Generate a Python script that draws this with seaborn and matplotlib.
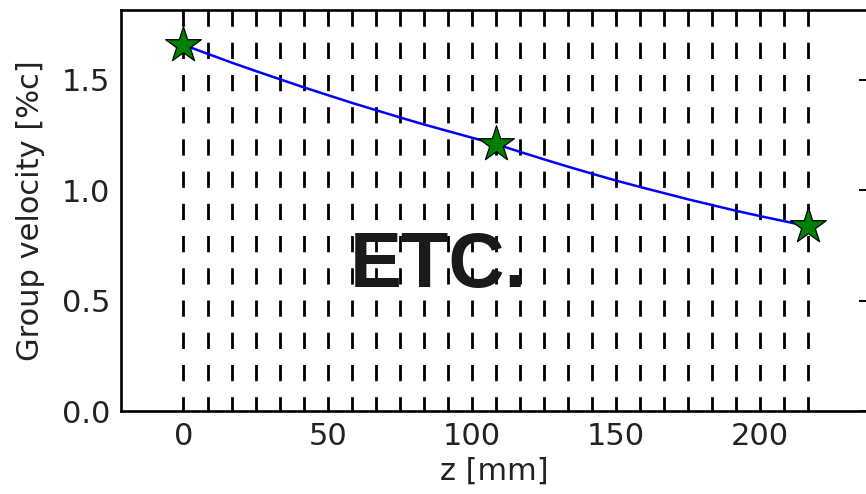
import numpy as np
import matplotlib
matplotlib.use("Agg")
import matplotlib.pyplot as plt
import seaborn as sns

# Cell boundary positions along the structure [mm]
cell_z = [0.0, 8.33, 16.67, 25.0, 33.33, 41.67, 50.0, 58.33, 66.67, 75.0,
          83.33, 91.67, 100.0, 108.33, 116.67, 125.0, 133.33, 141.67, 150.0,
          158.33, 166.67, 175.0, 183.33, 191.67, 200.0, 208.33, 216.67]

# Group velocity at each cell [%c]
group_velocity = [1.657, 1.617, 1.577, 1.539, 1.502, 1.465, 1.430, 1.395,
                  1.362, 1.329, 1.297, 1.267, 1.237, 1.208, 1.173, 1.139,
                  1.106, 1.074, 1.043, 1.014, 0.986, 0.958, 0.932, 0.906,
                  0.882, 0.859, 0.836]

# Design points (first, middle and last cell)
design_z = [0.0, 108.33, 216.67]
design_vg = [1.657, 1.208, 0.836]

x_ticks = [0, 50, 100, 150, 200]
y_ticks = [0.0, 0.5, 1.0, 1.5]

sns.set_style("white")
plt.rcParams["font.family"] = ["DejaVu Sans"]
plt.rcParams["lines.scale_dashes"] = False

W, H = 866, 494
fig = plt.figure(figsize=(W / 100, H / 100), dpi=100)
ax = fig.add_axes([121 / W, 1 - 411 / H, (867 - 121) / W, (411 - 10) / H])

ymax = 1.815
ax.set_xlim(-21.67, 237.0)
ax.set_ylim(0, ymax)

# Cell boundaries as dashed verticals, each drawn from the top down
for z in cell_z:
    ax.plot([z, z], [ymax, 0], color="black", linewidth=2.0,
            dashes=(11.7, 11.5), solid_capstyle="butt",
            dash_capstyle="butt", zorder=1)

sns.lineplot(x=cell_z, y=group_velocity, color="blue", linewidth=1.8,
             ax=ax, zorder=3)
sns.scatterplot(x=design_z, y=design_vg, marker="*", s=27 ** 2,
                color="green", edgecolor="black", linewidth=0.9,
                ax=ax, zorder=4, clip_on=False)

ax.set_xticks(x_ticks)
ax.set_yticks(y_ticks)
ax.set_yticklabels([f"{v:.1f}" for v in y_ticks])
ax.tick_params(direction="in", length=6, width=1.4, labelsize=22,
               top=True, right=True, pad=8, colors="black",
               labelcolor="#222222")

for s in ax.spines.values():
    s.set_linewidth(1.9)
    s.set_color("black")
    s.set_visible(True)

ax.set_xlabel("z [mm]", fontsize=22, color="#222222", labelpad=4)
ax.set_ylabel("Group velocity [%c]", fontsize=22, color="#222222",
              labelpad=12)

fig.text(438 / W, 1 - 287 / H, "ETC.", ha="center", va="baseline",
         fontsize=56, fontweight="bold", color="#1a1a1a",
         family=["Liberation Sans", "DejaVu Sans"], zorder=10)

fig.savefig("out.png", dpi=100)
